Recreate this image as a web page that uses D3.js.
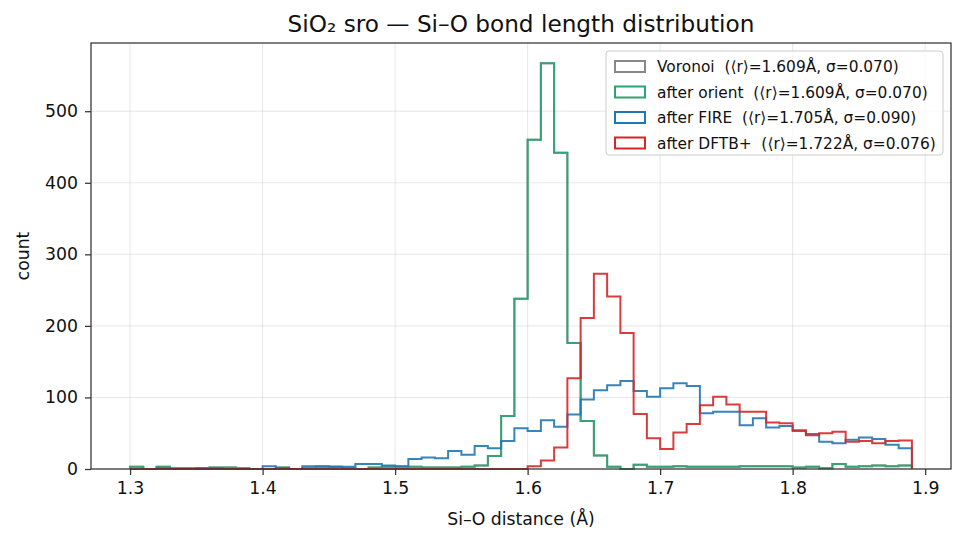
<!DOCTYPE html>
<html>
<head>
<meta charset="utf-8">
<script src="https://cdn.jsdelivr.net/npm/d3@7"></script>
<style>
  body { margin: 0; background: #fff; }
  svg { font-family: "DejaVu Sans", sans-serif; }
  text { white-space: pre; }
</style>
</head>
<body>
<div id="chart"></div>
<script>

// histogram bins: 0.01 Å wide starting at 1.30
var binStart = 1.30,
    binWidth = 0.01;

var xTicks = [1.3, 1.4, 1.5, 1.6, 1.7, 1.8, 1.9];
var yTicks = [0, 100, 200, 300, 400, 500];

// counts per bin (59 bins, 1.30 -> 1.89)
var voronoiCounts = [
  3, 0, 3, 1, 1, 1, 2, 2, 1, 0,
  0, 2, 0, 1, 3, 3, 1, 0, 2, 3,
  3, 3, 2, 2, 2, 3, 5, 18, 74, 238,
  460, 567, 442, 176, 67, 19, 3, 0, 6, 3,
  3, 4, 3, 3, 3, 3, 4, 4, 4, 4,
  2, 3, 1, 7, 3, 4, 5, 4, 5];
var orientCounts = [
  3, 0, 3, 1, 1, 1, 2, 2, 1, 0,
  0, 2, 0, 1, 3, 3, 1, 0, 2, 3,
  3, 3, 2, 2, 2, 3, 5, 18, 74, 238,
  460, 567, 442, 176, 67, 19, 3, 0, 6, 3,
  3, 4, 3, 3, 3, 3, 4, 4, 4, 4,
  2, 3, 1, 7, 3, 4, 5, 4, 5];
var fireCounts = [
  0, 0, 1, 0, 0, 1, 1, 0, 0, 0,
  4, 1, 0, 4, 4, 3, 3, 7, 7, 5,
  4, 14, 16, 15, 25, 20, 32, 29, 39, 57,
  53, 68, 59, 76, 97, 110, 117, 123, 109, 101,
  113, 120, 116, 78, 80, 80, 61, 71, 58, 60,
  53, 49, 38, 36, 41, 44, 42, 34, 29];
var dftbCounts = [
  0, 0, 0, 0, 0, 0, 0, 0, 0, 0,
  0, 0, 0, 0, 0, 0, 0, 0, 0, 0,
  0, 0, 0, 0, 0, 0, 0, 0, 0, 0,
  4, 12, 30, 127, 211, 273, 241, 190, 77, 43,
  28, 51, 63, 89, 101, 90, 80, 80, 65, 64,
  54, 47, 50, 52, 38, 39, 36, 39, 40];

var seriesNames = [
  "Voronoi  (\u27E8r\u27E9=1.609\u00C5, \u03C3=0.070)",
  "after orient  (\u27E8r\u27E9=1.609\u00C5, \u03C3=0.070)",
  "after FIRE  (\u27E8r\u27E9=1.705\u00C5, \u03C3=0.090)",
  "after DFTB+  (\u27E8r\u27E9=1.722\u00C5, \u03C3=0.076)"
];
var seriesColors = ["#888888", "#2ca470", "#1f77b4", "#d62728"];
var seriesCounts = [voronoiCounts, orientCounts, fireCounts, dftbCounts];

//--------------------------------------------------------------------------
// geometry
var outerWidth = 965,
    outerHeight = 544,
    margin = {top: 43, right: 14, bottom: 75, left: 91},
    width = outerWidth - margin.left - margin.right,
    height = outerHeight - margin.top - margin.bottom;

var nBins = orientCounts.length,
    xMin = binStart,
    xMax = binStart + nBins * binWidth,
    xPad = (xMax - xMin) * 0.05,
    yMax = d3.max(seriesCounts, function (c) { return d3.max(c); }) * 1.05;

var x = d3.scaleLinear().domain([xMin - xPad, xMax + xPad]).range([0, width]);
var y = d3.scaleLinear().domain([0, yMax]).range([height, 0]);

var svg = d3.select("#chart").append("svg")
    .attr("width", outerWidth)
    .attr("height", outerHeight);

var g = svg.append("g")
    .attr("transform", "translate(" + margin.left + "," + margin.top + ")");

// grid
g.append("g").selectAll("line").data(xTicks).enter().append("line")
    .attr("x1", function (d) { return x(d); })
    .attr("x2", function (d) { return x(d); })
    .attr("y1", 0).attr("y2", height)
    .attr("stroke", "#b0b0b0").attr("stroke-opacity", 0.3).attr("stroke-width", 1);
g.append("g").selectAll("line").data(yTicks).enter().append("line")
    .attr("y1", function (d) { return y(d); })
    .attr("y2", function (d) { return y(d); })
    .attr("x1", 0).attr("x2", width)
    .attr("stroke", "#b0b0b0").attr("stroke-opacity", 0.3).attr("stroke-width", 1);

// step outlines
function stepPoints(counts) {
    var pts = [[binStart, 0]];
    counts.forEach(function (c, i) {
        var e0 = binStart + i * binWidth;
        pts.push([e0, c]);
        pts.push([e0 + binWidth, c]);
    });
    pts.push([binStart + counts.length * binWidth, 0]);
    return pts;
}

var line = d3.line()
    .x(function (d) { return x(d[0]); })
    .y(function (d) { return y(d[1]); });

seriesCounts.forEach(function (counts, i) {
    g.append("path")
        .attr("d", line(stepPoints(counts)))
        .attr("fill", "none")
        .attr("stroke", seriesColors[i])
        .attr("stroke-opacity", 0.9)
        .attr("stroke-width", 2)
        .attr("stroke-linejoin", "miter");
});

// axes
var xAxis = g.append("g")
    .attr("transform", "translate(0," + height + ")")
    .call(d3.axisBottom(x).tickValues(xTicks).tickFormat(d3.format(".1f")).tickSizeOuter(0).tickSize(6).tickPadding(7));
var yAxis = g.append("g")
    .call(d3.axisLeft(y).tickValues(yTicks).tickSizeOuter(0).tickSize(6).tickPadding(7));

[xAxis, yAxis].forEach(function (ax) {
    ax.select(".domain").remove();
    ax.selectAll(".tick line").attr("stroke", "#333").attr("stroke-width", 1.25);
    ax.selectAll(".tick text")
        .attr("fill", "#111")
        .style("font-size", "17.3px")
        .style("font-family", "DejaVu Sans, sans-serif");
});

// frame
g.append("rect")
    .attr("width", width).attr("height", height)
    .attr("fill", "none").attr("stroke", "#333").attr("stroke-width", 1.25);

// labels
svg.append("text")
    .attr("x", margin.left + width / 2).attr("y", 32)
    .attr("text-anchor", "middle")
    .style("font-size", "23.2px").attr("fill", "#111")
    .text("SiO\u2082 sro \u2014 Si\u2013O bond length distribution");

svg.append("text")
    .attr("x", margin.left + width / 2).attr("y", 525)
    .attr("text-anchor", "middle")
    .style("font-size", "17.3px").attr("fill", "#111")
    .text("Si\u2013O distance (\u00C5)");

svg.append("text")
    .attr("transform", "translate(29," + (margin.top + height / 2) + ") rotate(-90)")
    .attr("text-anchor", "middle")
    .style("font-size", "17.3px").attr("fill", "#111")
    .text("count");

// legend
var legend = svg.append("g").attr("transform", "translate(606,51)");
legend.append("rect")
    .attr("width", 337).attr("height", 104)
    .attr("rx", 3).attr("ry", 3)
    .attr("fill", "#fff").attr("fill-opacity", 0.8)
    .attr("stroke", "#cccccc").attr("stroke-width", 1);

var rows = legend.selectAll("g.row").data(seriesNames).enter().append("g")
    .attr("class", "row")
    .attr("transform", function (d, i) { return "translate(0," + (15.5 + i * 25.5) + ")"; });
rows.append("rect")
    .attr("x", 9).attr("y", -5.5)
    .attr("width", 30).attr("height", 11)
    .attr("fill", "none")
    .attr("stroke", function (d, i) { return seriesColors[i]; })
    .attr("stroke-width", 2);
rows.append("text")
    .attr("x", 51).attr("y", 5.5)
    .style("font-size", "15.4px").attr("fill", "#111")
    .text(function (d) { return d; });

</script>
</body>
</html>
